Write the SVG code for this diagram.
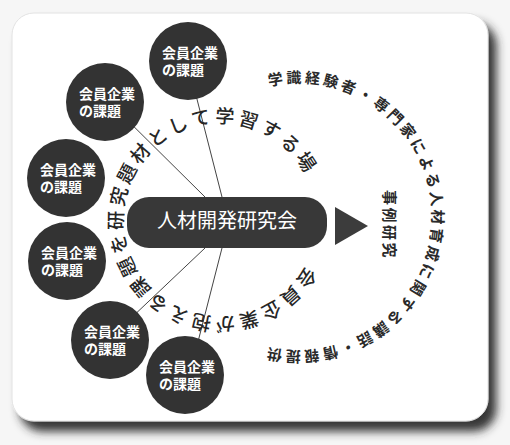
<svg xmlns="http://www.w3.org/2000/svg" width="510" height="445" viewBox="0 0 510 445">
<style>
.f{font-family:"Noto Sans CJK JP","Noto Sans CJK SC",sans-serif}
.ct{font-size:14px;font-weight:700;fill:#ffffff}
.cir{fill:#333333}
.con{stroke:#444444;stroke-width:1;fill:none}
.inner{font-size:19px;font-weight:500;fill:#262626;letter-spacing:3.5px}
.outer{font-size:15px;font-weight:700;fill:#2a2a2a;letter-spacing:2.9px}
</style>
<defs>
<filter id="sh" x="-10%" y="-10%" width="125%" height="125%">
<feDropShadow dx="8" dy="10" stdDeviation="5" flood-color="#2c2c2c" flood-opacity="0.95"/>
</filter>
<path id="innerArc" d="M305.6,265.7 A97,97 0 1 1 313.7,194.9"/>
<path id="outerArc" d="M268.8,86.2 A134,134 0 1 1 241.4,338.4"/>
</defs>
<rect width="510" height="445" fill="#f6f6f6"/>
<g id="card">
<rect x="12" y="13" width="476" height="408" rx="22" fill="#ffffff" stroke="#e2e2e2" stroke-width="1" filter="url(#sh)"/>
</g>
<g id="connectors">
<line class="con" x1="188" y1="64" x2="222" y2="197"/>
<line class="con" x1="107" y1="100" x2="205" y2="197"/>
<line class="con" x1="205" y1="248" x2="110" y2="338"/>
<line class="con" x1="222" y1="248" x2="190" y2="373"/>
<polygon points="335,207 368,226 335,245" fill="#3c3c3c"/>
</g>
<g id="arc-inner" class="f">
<text class="inner"><textPath href="#innerArc">会員企業が抱える課題を研究題材として学習する場</textPath></text>
</g>
<g id="arc-outer" class="f">
<text class="outer"><textPath href="#outerArc">学識経験者・専門家による人材育成に関する講話・情報提供</textPath></text>
</g>
<g id="case-study" class="f">
<text transform="translate(384,225) rotate(90)" text-anchor="middle" style="font-size:15px;font-weight:700;fill:#2a2a2a;letter-spacing:2.5px">事例研究</text>
</g>
<g id="node-center" class="f">
<rect x="127" y="197" width="200" height="51" rx="22" fill="#383838"/>
<text x="227" y="228" text-anchor="middle" style="font-size:20px;fill:#ffffff">人材開発研究会</text>
</g>
<g id="node-c1" class="f"><circle class="cir" cx="188" cy="61" r="39"/><text class="ct" x="162" y="58">会員企業</text><text class="ct" x="162" y="75">の課題</text></g>
<g id="node-c2" class="f"><circle class="cir" cx="105" cy="102" r="39"/><text class="ct" x="79" y="99">会員企業</text><text class="ct" x="79" y="116">の課題</text></g>
<g id="node-c3" class="f"><circle class="cir" cx="66" cy="178" r="39"/><text class="ct" x="40" y="175">会員企業</text><text class="ct" x="40" y="192">の課題</text></g>
<g id="node-c4" class="f"><circle class="cir" cx="67" cy="261" r="39"/><text class="ct" x="41" y="258">会員企業</text><text class="ct" x="41" y="275">の課題</text></g>
<g id="node-c5" class="f"><circle class="cir" cx="110" cy="340" r="39"/><text class="ct" x="84" y="337">会員企業</text><text class="ct" x="84" y="354">の課題</text></g>
<g id="node-c6" class="f"><circle class="cir" cx="185" cy="375" r="39"/><text class="ct" x="159" y="372">会員企業</text><text class="ct" x="159" y="389">の課題</text></g>
</svg>
